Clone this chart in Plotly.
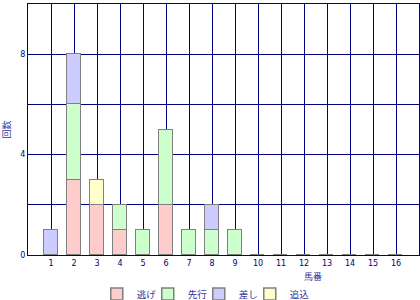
import plotly.graph_objects as go

horses = list(range(1, 17))
nige   = [0, 3, 2, 1, 0, 2, 0, 0, 0, 0, 0, 0, 0, 0, 0, 0]
senko  = [0, 3, 0, 1, 1, 3, 1, 1, 1, 0, 0, 0, 0, 0, 0, 0]
sashi  = [1, 2, 0, 0, 0, 0, 0, 1, 0, 0, 0, 0, 0, 0, 0, 0]
oikomi = [0, 0, 1, 0, 0, 0, 0, 0, 0, 0, 0, 0, 0, 0, 0, 0]
series_names = ["逃げ", "先行", "差し", "追込"]
colors = ["#FFCCCC", "#CCFFCC", "#CCCCFF", "#FFFFCC"]
x_ticks = list(range(0, 18))
x_labels = [""] + [str(h) for h in horses] + [""]
y_ticks = [0, 2, 4, 6, 8, 10]
y_labels = ["0", "", "4", "", "8", ""]

NAVY = "#000080"
JP = "Noto Sans CJK JP"

fig = go.Figure()
for name, vals, col in zip(series_names, [nige, senko, sashi, oikomi], colors):
    fig.add_trace(go.Bar(
        x=horses, y=vals, name=name, width=0.58,
        marker=dict(color=col, line=dict(color="#808080", width=1.5)),
    ))
# blank spacer entry so the last legend label is not clipped
fig.add_trace(go.Bar(
    x=[None], y=[None], name="", hoverinfo="skip",
    marker=dict(color="rgba(0,0,0,0)", line=dict(width=0)),
))

fig.update_layout(
    width=420, height=300,
    margin=dict(l=28, r=1, t=4, b=45),
    paper_bgcolor="white", plot_bgcolor="white",
    barmode="stack",
    bargap=0,
    font=dict(family=JP, color=NAVY, size=8),
    showlegend=True,
    legend=dict(
        orientation="h", traceorder="normal",
        xref="container", yref="container",
        x=0.534, xanchor="center", y=0.02, yanchor="middle",
        font=dict(family=JP, size=9.5, color="#333399"),
        itemwidth=30, tracegroupgap=0,
        entrywidth=6, entrywidthmode="pixels",
        bgcolor="rgba(0,0,0,0)",
    ),
    xaxis=dict(
        range=[0, 17], tickvals=x_ticks, ticktext=x_labels,
        showgrid=True, gridcolor=NAVY, gridwidth=1,
        showline=True, linecolor=NAVY, linewidth=1, mirror=True,
        ticks="", ticklen=0, zeroline=False, automargin=False,
        tickfont=dict(family="DejaVu Sans", size=8, color=NAVY),
    ),
    yaxis=dict(
        range=[0, 10], tickvals=y_ticks, ticktext=y_labels,
        showgrid=True, gridcolor=NAVY, gridwidth=1,
        showline=True, linecolor=NAVY, linewidth=1, mirror=True,
        ticks="outside", ticklen=0, zeroline=False, automargin=False,
        tickfont=dict(family="DejaVu Sans", size=8, color=NAVY),
        title=dict(text="回数", font=dict(family=JP, size=9, color="#333399"), standoff=17),
    ),
    annotations=[dict(
        text="馬番", xref="paper", yref="paper", x=0.73, y=0, yshift=-21,
        xanchor="center", yanchor="middle", showarrow=False,
        font=dict(family=JP, size=9, color="#333399"),
    )],
)

fig.write_html("out.html")
